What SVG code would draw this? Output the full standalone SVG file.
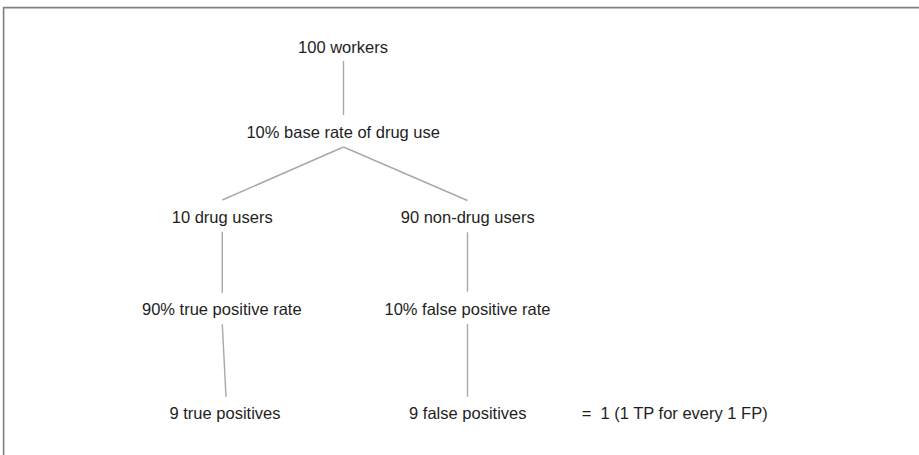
<svg xmlns="http://www.w3.org/2000/svg" width="919" height="455" viewBox="0 0 919 455">
<style>
.lbl{font-family:"Liberation Sans",Arial,sans-serif;font-size:16.5px;fill:#1e1e1e;text-anchor:middle}
.st{text-anchor:start}
.edge{stroke:#a8a8a8;stroke-width:1.4;fill:none}
.frame{stroke:#808080;stroke-width:1.6;fill:none}
</style>
<rect x="0" y="0" width="919" height="455" fill="#ffffff"/>
<path class="frame" d="M3.6,455 V7.6 H919"/>
<g id="connectors">
<line class="edge" x1="343.5" y1="61" x2="343.5" y2="115"/>
<line class="edge" x1="343.5" y1="147" x2="222.3" y2="200"/>
<line class="edge" x1="343.5" y1="147" x2="467.5" y2="200.5"/>
<line class="edge" x1="222.3" y1="231.7" x2="222.3" y2="292.7"/>
<line class="edge" x1="222.3" y1="324.3" x2="226" y2="396.7"/>
<line class="edge" x1="467.5" y1="232.3" x2="467.5" y2="291.7"/>
<line class="edge" x1="467.5" y1="324" x2="467.5" y2="396.7"/>
</g>
<g id="n-workers"><text class="lbl" x="343" y="52.5">100 workers</text></g>
<g id="n-baserate"><text class="lbl" x="343.2" y="137.5">10% base rate of drug use</text></g>
<g id="n-users"><text class="lbl" x="222.2" y="222.5">10 drug users</text></g>
<g id="n-nonusers"><text class="lbl" x="467.7" y="222.5">90 non-drug users</text></g>
<g id="n-tpr"><text class="lbl" x="221.8" y="315">90% true positive rate</text></g>
<g id="n-fpr"><text class="lbl" x="467.5" y="315">10% false positive rate</text></g>
<g id="n-tp"><text class="lbl" x="225" y="418.5">9 true positives</text></g>
<g id="n-fp"><text class="lbl" x="467.8" y="418.5">9 false positives</text></g>
<g id="n-ratio"><text class="lbl st" x="581.7" y="418.5" xml:space="preserve">=  1 (1 TP for every 1 FP)</text></g>
</svg>
